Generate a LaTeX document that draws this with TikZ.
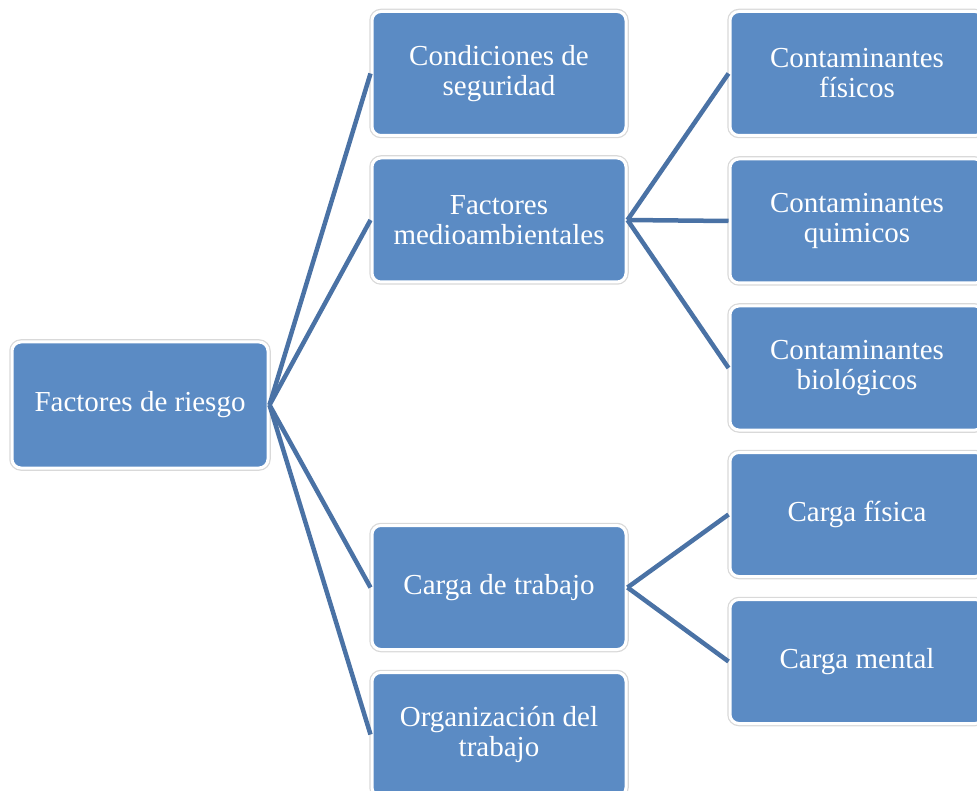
\documentclass[tikz,border=0pt]{standalone}
\usepackage{fontspec}
\setmainfont{Liberation Serif}
\usetikzlibrary{positioning}

\definecolor{boxblue}{HTML}{5B8BC4}
\definecolor{linkblue}{HTML}{4A72A5}

\tikzset{
    riskbox/.style={rounded corners=9pt, fill=boxblue, draw=white, line width=3pt,
        preaction={draw=gray!30, line width=5.5pt},
        minimum width=254pt, minimum height=124pt, align=center, text=white,
        font=\fontsize{29}{30}\selectfont},
    link/.style={draw=linkblue, line width=4.5pt}
}

\begin{document}
\begin{tikzpicture}[x=1pt, y=-1pt]

    \clip (0,0) rectangle (977,791);

    \node[riskbox, minimum width=256pt, minimum height=126pt] (riesgo) at (140,405) {Factores de riesgo};

    \node[riskbox] (seguridad) at (499,73.5) {Condiciones de\\seguridad};
    \node[riskbox] (medio) at (499,220) {Factores\\medioambientales};
    \node[riskbox] (carga) at (499,587.5) {Carga de trabajo};
    \node[riskbox] (organiza) at (499,734.5) {Organización del\\trabajo};

    \node[riskbox] (fisicos) at (857,73.5) {Contaminantes\\físicos};
    \node[riskbox] (quimicos) at (857,221) {Contaminantes\\quimicos};
    \node[riskbox] (biologicos) at (857,368) {Contaminantes\\biológicos};
    \node[riskbox] (cfisica) at (857,514.5) {Carga física};
    \node[riskbox] (cmental) at (857,661.5) {Carga mental};

    \foreach \b in {seguridad, medio, carga, organiza}
        \draw[link] (riesgo.east) -- (\b.west);
    \foreach \b in {fisicos, quimicos, biologicos}
        \draw[link] (medio.east) -- (\b.west);
    \foreach \b in {cfisica, cmental}
        \draw[link] (carga.east) -- (\b.west);

\end{tikzpicture}
\end{document}
